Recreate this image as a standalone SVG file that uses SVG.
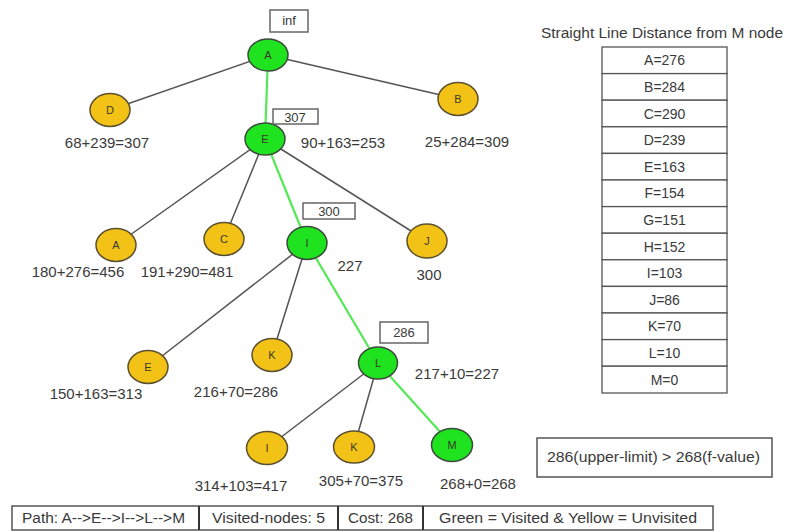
<svg xmlns="http://www.w3.org/2000/svg" width="785" height="531" viewBox="0 0 785 531">
  <style>
    text { font-family: "Liberation Sans", Arial, sans-serif; fill: #3a3a3a; }
    .edge { stroke: #555; stroke-width: 1.5; fill: none; }
    .path { stroke: #55e855; stroke-width: 2.2; fill: none; }
    .visited { fill: #1ee31e; stroke: #3c4a3c; stroke-width: 1.5; }
    .unvisited { fill: #f3c217; stroke: #5a5030; stroke-width: 1.5; }
    .nl { font-size: 11px; text-anchor: middle; fill: #3a3a2a; }
    .lbl { font-size: 15px; text-anchor: middle; }
    .vbox { fill: #fff; stroke: #666; stroke-width: 1.5; }
    .vtxt { font-size: 13px; text-anchor: middle; }
    .cell { fill: #fff; stroke: #555; stroke-width: 1.3; }
    .ctxt { font-size: 14px; text-anchor: middle; }
    .bar { fill: #fff; stroke: #555; stroke-width: 1.5; }
    .div { stroke: #333; stroke-width: 2; }
    .btxt { font-size: 14px; }
  </style>

  <rect width="785" height="531" fill="#fff"/>

  <!-- connectors -->
  <g id="connectors">
    <line class="edge" x1="268" y1="55" x2="110" y2="110"/>
    <line class="edge" x1="268" y1="55" x2="458" y2="99"/>
    <line class="path" x1="268" y1="55" x2="265" y2="139"/>
    <line class="edge" x1="265" y1="139" x2="116" y2="245"/>
    <line class="edge" x1="265" y1="139" x2="224" y2="239"/>
    <line class="edge" x1="265" y1="139" x2="427" y2="241"/>
    <line class="path" x1="265" y1="139" x2="307" y2="243"/>
    <line class="edge" x1="307" y1="243" x2="148" y2="367"/>
    <line class="edge" x1="307" y1="243" x2="272" y2="355"/>
    <line class="path" x1="307" y1="243" x2="378" y2="363"/>
    <line class="edge" x1="378" y1="363" x2="267" y2="448"/>
    <line class="edge" x1="378" y1="363" x2="354" y2="447"/>
    <line class="path" x1="378" y1="363" x2="452" y2="445"/>
  </g>

  <!-- tree nodes -->
  <g id="node-A">
    <ellipse class="visited" cx="268" cy="55" rx="20" ry="16"/>
    <text class="nl" x="268" y="59">A</text>
  </g>
  <g id="node-D">
    <ellipse class="unvisited" cx="110" cy="110" rx="20" ry="16.5"/>
    <text class="nl" x="110" y="114">D</text>
  </g>
  <g id="node-B">
    <ellipse class="unvisited" cx="458" cy="99" rx="20" ry="16.5"/>
    <text class="nl" x="458" y="103">B</text>
  </g>
  <g id="node-E">
    <ellipse class="visited" cx="265" cy="139" rx="20" ry="16"/>
    <text class="nl" x="265" y="143">E</text>
  </g>
  <g id="node-A2">
    <ellipse class="unvisited" cx="116" cy="245" rx="20" ry="16.5"/>
    <text class="nl" x="116" y="249">A</text>
  </g>
  <g id="node-C">
    <ellipse class="unvisited" cx="224" cy="239" rx="20" ry="16.5"/>
    <text class="nl" x="224" y="243">C</text>
  </g>
  <g id="node-I">
    <ellipse class="visited" cx="307" cy="243" rx="20" ry="16.5"/>
    <text class="nl" x="307" y="247">I</text>
  </g>
  <g id="node-J">
    <ellipse class="unvisited" cx="427" cy="241" rx="20" ry="17"/>
    <text class="nl" x="427" y="245">J</text>
  </g>
  <g id="node-E2">
    <ellipse class="unvisited" cx="148" cy="367" rx="20" ry="16.5"/>
    <text class="nl" x="148" y="371">E</text>
  </g>
  <g id="node-K">
    <ellipse class="unvisited" cx="272" cy="355" rx="20" ry="16.5"/>
    <text class="nl" x="272" y="359">K</text>
  </g>
  <g id="node-L">
    <ellipse class="visited" cx="378" cy="363" rx="19.5" ry="16"/>
    <text class="nl" x="378" y="367">L</text>
  </g>
  <g id="node-I2">
    <ellipse class="unvisited" cx="267" cy="448" rx="20.5" ry="16.5"/>
    <text class="nl" x="267" y="452">I</text>
  </g>
  <g id="node-K2">
    <ellipse class="unvisited" cx="354" cy="447" rx="20.5" ry="16"/>
    <text class="nl" x="354" y="451">K</text>
  </g>
  <g id="node-M">
    <ellipse class="visited" cx="452" cy="445" rx="20.5" ry="16.5"/>
    <text class="nl" x="452" y="449">M</text>
  </g>

  <!-- upper-limit boxes -->
  <g id="limit-inf">
    <rect class="vbox" x="270" y="10" width="38" height="22"/>
    <text class="vtxt" x="289" y="25">inf</text>
  </g>
  <g id="limit-307">
    <rect class="vbox" x="273" y="109" width="45" height="15"/>
    <text class="vtxt" x="295" y="122" font-size="14">307</text>
  </g>
  <g id="limit-300">
    <rect class="vbox" x="303" y="203" width="52" height="16"/>
    <text class="vtxt" x="329" y="216">300</text>
  </g>
  <g id="limit-286">
    <rect class="vbox" x="380" y="322" width="48" height="21"/>
    <text class="vtxt" x="404" y="337">286</text>
  </g>

  <!-- f-value labels -->
  <g id="labels">
    <text class="lbl" x="107" y="148">68+239=307</text>
    <text class="lbl" x="343" y="148">90+163=253</text>
    <text class="lbl" x="467" y="147">25+284=309</text>
    <text class="lbl" x="78" y="277">180+276=456</text>
    <text class="lbl" x="187" y="277">191+290=481</text>
    <text class="lbl" x="350" y="271">227</text>
    <text class="lbl" x="429" y="280">300</text>
    <text class="lbl" x="96" y="399">150+163=313</text>
    <text class="lbl" x="236" y="397">216+70=286</text>
    <text class="lbl" x="457" y="379">217+10=227</text>
    <text class="lbl" x="241" y="491">314+103=417</text>
    <text class="lbl" x="361" y="486">305+70=375</text>
    <text class="lbl" x="478" y="489">268+0=268</text>
  </g>

  <!-- heuristic table -->
  <g id="heuristic-table">
    <text x="541" y="38" font-size="14" textLength="242" lengthAdjust="spacingAndGlyphs">Straight Line Distance from M node</text>
    <rect class="cell" x="602" y="47" width="125" height="26.6"/>
    <rect class="cell" x="602" y="73.6" width="125" height="26.6"/>
    <rect class="cell" x="602" y="100.2" width="125" height="26.6"/>
    <rect class="cell" x="602" y="126.8" width="125" height="26.6"/>
    <rect class="cell" x="602" y="153.4" width="125" height="26.6"/>
    <rect class="cell" x="602" y="180" width="125" height="26.6"/>
    <rect class="cell" x="602" y="206.6" width="125" height="26.6"/>
    <rect class="cell" x="602" y="233.2" width="125" height="26.6"/>
    <rect class="cell" x="602" y="259.8" width="125" height="26.6"/>
    <rect class="cell" x="602" y="286.4" width="125" height="26.6"/>
    <rect class="cell" x="602" y="313" width="125" height="26.6"/>
    <rect class="cell" x="602" y="339.6" width="125" height="26.6"/>
    <rect class="cell" x="602" y="366.2" width="125" height="26.8"/>
    <text class="ctxt" x="664.5" y="65.3">A=276</text>
    <text class="ctxt" x="664.5" y="91.9">B=284</text>
    <text class="ctxt" x="664.5" y="118.5">C=290</text>
    <text class="ctxt" x="664.5" y="145.1">D=239</text>
    <text class="ctxt" x="664.5" y="171.7">E=163</text>
    <text class="ctxt" x="664.5" y="198.3">F=154</text>
    <text class="ctxt" x="664.5" y="224.9">G=151</text>
    <text class="ctxt" x="664.5" y="251.5">H=152</text>
    <text class="ctxt" x="664.5" y="278.1">I=103</text>
    <text class="ctxt" x="664.5" y="304.7">J=86</text>
    <text class="ctxt" x="664.5" y="331.3">K=70</text>
    <text class="ctxt" x="664.5" y="357.9">L=10</text>
    <text class="ctxt" x="664.5" y="384.5">M=0</text>
  </g>

  <!-- termination note -->
  <g id="limit-note">
    <rect class="bar" x="537" y="438" width="235" height="39"/>
    <text x="547" y="462" font-size="14" textLength="213" lengthAdjust="spacingAndGlyphs">286(upper-limit) &gt; 268(f-value)</text>
  </g>

  <!-- summary bar -->
  <g id="summary">
    <rect class="bar" x="12" y="506" width="701" height="24"/>
    <line class="div" x1="199" y1="506" x2="199" y2="530"/>
    <line class="div" x1="338" y1="506" x2="338" y2="530"/>
    <line class="div" x1="423" y1="506" x2="423" y2="530"/>
    <text class="btxt" x="22" y="523" textLength="163" lengthAdjust="spacingAndGlyphs">Path: A--&gt;E--&gt;I--&gt;L--&gt;M</text>
    <text class="btxt" x="212" y="523" textLength="113" lengthAdjust="spacingAndGlyphs">Visited-nodes: 5</text>
    <text class="btxt" x="348" y="523" textLength="65" lengthAdjust="spacingAndGlyphs">Cost: 268</text>
    <text class="btxt" x="439" y="523" textLength="258" lengthAdjust="spacingAndGlyphs">Green = Visited &amp; Yellow = Unvisited</text>
  </g>
</svg>
